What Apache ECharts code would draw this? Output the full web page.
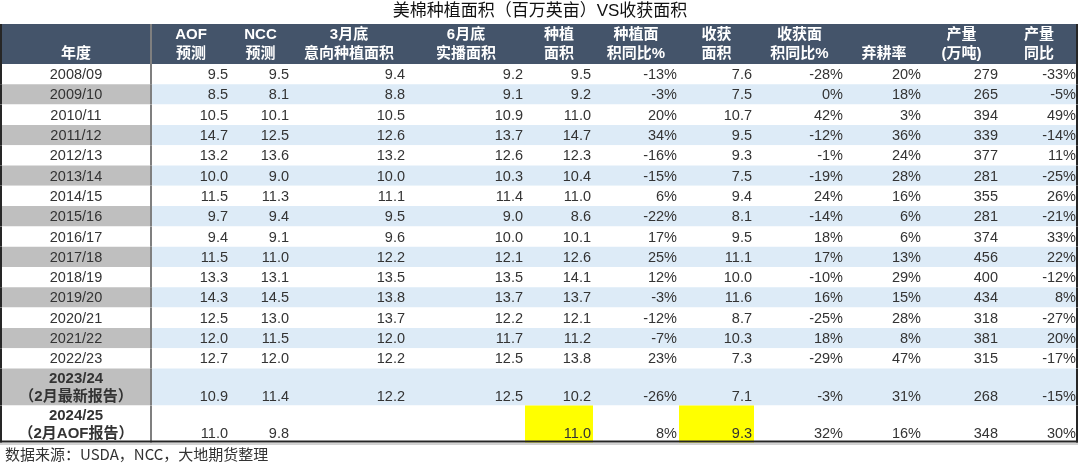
<!DOCTYPE html>
<html>
<head>
<meta charset="utf-8">
<script src="https://cdn.jsdelivr.net/npm/echarts@6/dist/echarts.min.js"></script>
<style>
  html, body { margin: 0; padding: 0; background: #fff; }
  #table-chart { width: 1080px; height: 466px; }
</style>
</head>
<body>
<div id="table-chart"></div>
<script>
// 表头和年度
const headers = ['年度', 'AOF\n预测', 'NCC\n预测', '3月底\n意向种植面积', '6月底\n实播面积', '种植\n面积',
    '种植面\n积同比%', '收获\n面积', '收获面\n积同比%', '弃耕率', '产量\n(万吨)', '产量\n同比'];
const years = ['2008/09', '2009/10', '2010/11', '2011/12', '2012/13', '2013/14', '2014/15', '2015/16',
    '2016/17', '2017/18', '2018/19', '2019/20', '2020/21', '2021/22', '2022/23',
    '2023/24\n（2月最新报告）', '2024/25\n（2月AOF报告）'];

// 各列数据（百万英亩 / % / 万吨）
const aofForecast = [9.5, 8.5, 10.5, 14.7, 13.2, 10.0, 11.5, 9.7, 9.4, 11.5, 13.3, 14.3, 12.5, 12.0, 12.7, 10.9, 11.0];
const nccForecast = [9.5, 8.1, 10.1, 12.5, 13.6, 9.0, 11.3, 9.4, 9.1, 11.0, 13.1, 14.5, 13.0, 11.5, 12.0, 11.4, 9.8];
const marchIntended = [9.4, 8.8, 10.5, 12.6, 13.2, 10.0, 11.1, 9.5, 9.6, 12.2, 13.5, 13.8, 13.7, 12.0, 12.2, 12.2, null];
const juneActual = [9.2, 9.1, 10.9, 13.7, 12.6, 10.3, 11.4, 9.0, 10.0, 12.1, 13.5, 13.7, 12.2, 11.7, 12.5, 12.5, null];
const planted = [9.5, 9.2, 11.0, 14.7, 12.3, 10.4, 11.0, 8.6, 10.1, 12.6, 14.1, 13.7, 12.1, 11.2, 13.8, 10.2, 11.0];
const plantedYoY = [-13, -3, 20, 34, -16, -15, 6, -22, 17, 25, 12, -3, -12, -7, 23, -26, 8];
const harvested = [7.6, 7.5, 10.7, 9.5, 9.3, 7.5, 9.4, 8.1, 9.5, 11.1, 10.0, 11.6, 8.7, 10.3, 7.3, 7.1, 9.3];
const harvestedYoY = [-28, 0, 42, -12, -1, -19, 24, -14, 18, 17, -10, 16, -25, 18, -29, -3, 32];
const abandonRate = [20, 18, 3, 36, 24, 28, 16, 6, 6, 13, 29, 15, 28, 8, 47, 31, 16];
const production = [279, 265, 394, 339, 377, 281, 355, 281, 374, 456, 400, 434, 318, 381, 315, 268, 348];
const productionYoY = [-33, -5, 49, -14, 11, -25, 26, -21, 33, 22, -12, 8, -27, 20, -17, -15, 30];

// 列：数据 + 显示格式
const columns = [
    { data: years, fmt: 'label' },
    { data: aofForecast, fmt: 'f1' },
    { data: nccForecast, fmt: 'f1' },
    { data: marchIntended, fmt: 'f1' },
    { data: juneActual, fmt: 'f1' },
    { data: planted, fmt: 'f1' },
    { data: plantedYoY, fmt: 'pct' },
    { data: harvested, fmt: 'f1' },
    { data: harvestedYoY, fmt: 'pct' },
    { data: abandonRate, fmt: 'pct' },
    { data: production, fmt: 'int' },
    { data: productionYoY, fmt: 'pct' },
];

// 布局（轴单位）
const colWidths = [152, 78, 61, 116, 118, 68, 86, 75, 91, 78, 77, 78];
const headerHeight = 40;
const rowHeight = 20.3;
const doubleRowHeight = 37;
const highlightCells = [[16, 5], [16, 7]]; // [行, 列] 黄色标注

const colEdges = [0];
colWidths.forEach((w) => colEdges.push(colEdges[colEdges.length - 1] + w));
const rowEdges = [0, headerHeight];
years.forEach((y) => {
    const h = y.indexOf('\n') >= 0 ? doubleRowHeight : rowHeight;
    rowEdges.push(rowEdges[rowEdges.length - 1] + h);
});

const FONT = "'Liberation Sans', 'Noto Sans CJK SC', sans-serif";
const TEXT_COLOR = '#333333';

function formatValue(v, fmt) {
    if (v === null || v === undefined) return '';
    if (fmt === 'f1') return v.toFixed(1);
    if (fmt === 'pct') return v + '%';
    if (fmt === 'int') return String(v);
    return v;
}

const cells = [];
for (let r = 0; r <= years.length; r++) {
    for (let c = 0; c < columns.length; c++) {
        cells.push([c, r]);
    }
}

function renderItem(params, api) {
    const c = api.value(0);
    const r = api.value(1);
    const p0 = api.coord([colEdges[c], rowEdges[r]]);
    const p1 = api.coord([colEdges[c + 1], rowEdges[r + 1]]);
    const x0 = p0[0], y0 = p0[1], x1 = p1[0], y1 = p1[1];
    const children = [];

    let fill;
    if (r === 0) {
        fill = '#44546A';
    } else {
        const i = r - 1;
        const isHighlight = highlightCells.some((h) => h[0] === i && h[1] === c);
        if (isHighlight) fill = '#FFFF00';
        else if (c === 0) fill = i % 2 === 1 ? '#BFBFBF' : '#FFFFFF';
        else fill = i % 2 === 1 ? '#DDEBF7' : '#FFFFFF';
    }
    children.push({
        type: 'rect',
        shape: { x: x0, y: y0, width: x1 - x0, height: y1 - y0 },
        style: { fill: fill },
    });

    if (r === 0) {
        const lines = headers[c].split('\n');
        const yLine1 = y0 + 11;
        const yLine2 = y1 - 10;
        const pos = lines.length === 2 ? [yLine1, yLine2] : [yLine2];
        lines.forEach((t, k) => {
            children.push({
                type: 'text',
                style: {
                    text: t, x: (x0 + x1) / 2, y: pos[k], align: 'center', verticalAlign: 'middle',
                    fill: '#FFFFFF', font: 'bold 15px ' + FONT,
                },
            });
        });
    } else {
        const i = r - 1;
        const isDouble = (y1 - y0) > rowHeight + 1;
        if (c === 0) {
            const lines = years[i].split('\n');
            if (lines.length === 2) {
                [y0 + 10, y1 - 9].forEach((yy, k) => {
                    children.push({
                        type: 'text',
                        style: {
                            text: lines[k], x: (x0 + x1) / 2, y: yy, align: 'center', verticalAlign: 'middle',
                            fill: TEXT_COLOR, font: 'bold 15px ' + FONT,
                        },
                    });
                });
            } else {
                children.push({
                    type: 'text',
                    style: {
                        text: lines[0], x: (x0 + x1) / 2, y: (y0 + y1) / 2 + 1, align: 'center', verticalAlign: 'middle',
                        fill: TEXT_COLOR, font: '14.5px ' + FONT,
                    },
                });
            }
        } else {
            const txt = formatValue(columns[c].data[i], columns[c].fmt);
            children.push({
                type: 'text',
                style: {
                    text: txt, x: x1 - 2, y: isDouble ? y1 - 8.5 : (y0 + y1) / 2 + 1,
                    align: 'right', verticalAlign: 'middle',
                    fill: TEXT_COLOR, font: '14.5px ' + FONT,
                },
            });
        }
    }

    // 年度列右侧分隔线
    if (c === 0) {
        children.push({
            type: 'line',
            shape: { x1: x1 - 1, y1: y0, x2: x1 - 1, y2: y1 },
            style: { stroke: '#7F7F7F', lineWidth: 2 },
        });
        children.push({
            type: 'line',
            shape: { x1: x0 + 1, y1: y0, x2: x0 + 1, y2: y1 },
            style: { stroke: '#262626', lineWidth: 2 },
        });
    }
    if (c === columns.length - 1) {
        children.push({
            type: 'line',
            shape: { x1: x1 - 1, y1: y0, x2: x1 - 1, y2: y1 },
            style: { stroke: '#262626', lineWidth: 2 },
        });
    }
    if (r === years.length) {
        children.push({
            type: 'line',
            shape: { x1: x0, y1: y1 - 1, x2: x1, y2: y1 - 1 },
            style: { stroke: '#262626', lineWidth: 2 },
        });
        children.push({
            type: 'line',
            shape: { x1: x0, y1: y1 + 1.5, x2: x1, y2: y1 + 1.5 },
            style: { stroke: '#A6A6A6', lineWidth: 1 },
        });
    }
    return { type: 'group', children: children };
}

const chart = echarts.init(document.getElementById('table-chart'));
chart.setOption({
    animation: false,
    backgroundColor: '#FFFFFF',
    title: [
        {
            text: '美棉种植面积（百万英亩）VS收获面积',
            left: 'center',
            top: 3,
            padding: 0,
            textStyle: { fontFamily: FONT, fontSize: 17, fontWeight: 'normal', color: '#111111' },
        },
        {
            text: '数据来源：USDA，NCC，大地期货整理',
            left: 5,
            top: 447,
            padding: 0,
            textStyle: { fontFamily: "'Noto Sans CJK SC', sans-serif", fontSize: 15, fontWeight: 'normal', color: '#333333' },
        },
    ],
    grid: { left: 0, right: 1080 - colEdges[colEdges.length - 1], top: 24, bottom: 466 - 24 - rowEdges[rowEdges.length - 1] },
    xAxis: { type: 'value', min: 0, max: colEdges[colEdges.length - 1], show: false },
    yAxis: { type: 'value', min: 0, max: rowEdges[rowEdges.length - 1], inverse: true, show: false },
    series: [
        {
            type: 'custom',
            renderItem: renderItem,
            data: cells,
            clip: false,
        },
    ],
});
</script>
</body>
</html>
